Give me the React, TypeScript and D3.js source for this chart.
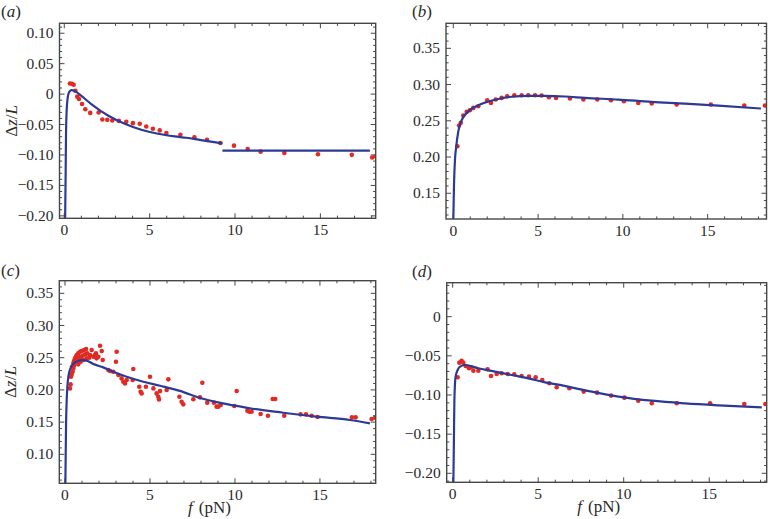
import React from 'react';
import * as d3 from 'd3';

type Pt = [number, number];

// ---------- data ----------
const xTickValues = [0, 5, 10, 15];
const xTickLabels = ['0', '5', '10', '15'];

const yTicksA = [0.1, 0.05, 0, -0.05, -0.1, -0.15, -0.2];
const yLabelsA = ['0.10', '0.05', '0', '\u22120.05', '\u22120.10', '\u22120.15', '\u22120.20'];
const yTicksB = [0.35, 0.3, 0.25, 0.2, 0.15];
const yLabelsB = ['0.35', '0.30', '0.25', '0.20', '0.15'];
const yTicksC = [0.35, 0.3, 0.25, 0.2, 0.15, 0.1];
const yLabelsC = ['0.35', '0.30', '0.25', '0.20', '0.15', '0.10'];
const yTicksD = [0, -0.05, -0.1, -0.15, -0.2];
const yLabelsD = ['0', '\u22120.05', '\u22120.10', '\u22120.15', '\u22120.20'];

const curveA: Pt[] = [
  [0.05, -0.205], [0.08, -0.13], [0.1, -0.07], [0.14, -0.027], [0.2, -0.006], [0.28, 0.003],
  [0.41, 0.0066], [0.65, 0.0045], [1.0, -0.003], [1.58, -0.0163], [2.56, -0.0352], [3.54, -0.0488],
  [4.51, -0.0586], [5.49, -0.0651], [6.47, -0.0694], [7.15, -0.0717], [8.0, -0.0755], [9.26, -0.0808],
];
const curveA2: Pt[] = [[9.26, -0.0928], [17.9, -0.0928]];
const dotsA: Pt[] = [
  [0.33, 0.0174], [0.45, 0.017], [0.55, 0.0153], [0.65, 0.0055], [0.76, -0.0042], [0.86, -0.0081],
  [1.04, -0.0163], [1.23, -0.0249], [1.52, -0.0309], [2.01, -0.0303], [2.23, -0.0417], [2.52, -0.0423],
  [2.81, -0.0434], [3.2, -0.044], [3.63, -0.0456], [4.02, -0.0477], [4.42, -0.0488], [4.8, -0.0531],
  [5.19, -0.057], [5.59, -0.0596], [5.98, -0.064], [6.8, -0.0668], [7.62, -0.071], [8.36, -0.0752],
  [9.14, -0.0803], [9.94, -0.0847], [10.74, -0.0901], [11.5, -0.0945], [12.89, -0.0966],
  [14.86, -0.0987], [16.84, -0.0998], [18.03, -0.1042], [18.22, -0.102],
];

const curveB: Pt[] = [
  [0.0, 0.112], [0.04, 0.16], [0.1, 0.1966], [0.16, 0.212], [0.3, 0.236], [0.49, 0.2505],
  [0.89, 0.263], [1.48, 0.2715], [2.46, 0.279], [3.44, 0.2832], [4.42, 0.2843], [5.4, 0.2843],
  [6.58, 0.2835], [7.77, 0.2816], [9.73, 0.2793], [11.7, 0.2761], [13.66, 0.2738], [15.63, 0.271],
  [18.14, 0.2669],
];
const dotsB: Pt[] = [
  [0.24, 0.2149], [0.34, 0.2434], [0.44, 0.2472], [0.59, 0.2572], [0.79, 0.2623], [0.98, 0.2646],
  [1.18, 0.2678], [1.47, 0.2701], [2.0, 0.2784], [2.22, 0.2747], [2.5, 0.2793], [2.85, 0.2816],
  [3.18, 0.2839], [3.6, 0.2853], [4.03, 0.2853], [4.42, 0.2853], [4.82, 0.2853], [5.21, 0.2848],
  [5.64, 0.2825], [6.06, 0.2816], [6.88, 0.2807], [7.67, 0.2793], [8.49, 0.2793], [9.3, 0.2784],
  [10.06, 0.277], [10.91, 0.2747], [11.7, 0.2738], [13.17, 0.2724], [15.19, 0.2724],
  [17.16, 0.271], [18.38, 0.271],
];

const curveC: Pt[] = [
  [0.02, 0.05], [0.06, 0.143], [0.1, 0.184], [0.2, 0.221], [0.33, 0.234], [0.59, 0.2428],
  [0.98, 0.2464], [1.27, 0.2455], [1.67, 0.2402], [2.25, 0.235], [2.84, 0.2283], [3.63, 0.2205],
  [4.61, 0.2127], [5.59, 0.2065], [6.76, 0.1985], [8.0, 0.187], [8.92, 0.181], [10.0, 0.1755],
  [10.88, 0.1714], [12.84, 0.1646], [14.8, 0.1584], [16.76, 0.1533], [17.94, 0.148],
];
const dotsC: Pt[] = [
  [0.29, 0.2024], [0.33, 0.2086], [0.35, 0.2205], [0.39, 0.2241], [0.45, 0.2283], [0.49, 0.2334],
  [0.41, 0.236], [0.49, 0.2412], [0.53, 0.2448], [0.59, 0.249], [0.65, 0.2516], [0.69, 0.2541],
  [0.78, 0.2567], [0.88, 0.2593], [0.98, 0.2604], [1.12, 0.2619], [1.24, 0.2635], [0.73, 0.2464],
  [0.84, 0.249], [0.92, 0.2516], [1.04, 0.2531], [1.18, 0.2552], [1.31, 0.2567], [1.47, 0.2541],
  [1.57, 0.2619], [1.67, 0.2516], [1.76, 0.2541], [1.86, 0.249], [1.96, 0.2516], [2.06, 0.2686],
  [2.16, 0.2604], [2.22, 0.2464], [1.82, 0.2567], [0.53, 0.2376], [0.65, 0.2438], [0.78, 0.2397],
  [0.92, 0.2438], [1.08, 0.2464], [1.27, 0.249], [1.43, 0.25],
  [3.04, 0.2593], [3.0, 0.2438], [2.55, 0.2309], [2.65, 0.2293], [2.84, 0.2283], [3.14, 0.2231],
  [3.33, 0.2179], [3.43, 0.2127], [3.53, 0.2101], [3.63, 0.2153], [4.02, 0.2324], [3.98, 0.2153],
  [4.37, 0.205], [4.45, 0.1972], [4.51, 0.1946], [4.76, 0.205], [5.0, 0.2205], [5.2, 0.2024],
  [5.39, 0.1946], [5.49, 0.1894], [5.53, 0.1853], [5.59, 0.1982], [6.08, 0.2164], [5.98, 0.1998],
  [6.73, 0.1894], [6.86, 0.1817], [6.96, 0.1776], [7.55, 0.1854], [7.94, 0.1885], [8.08, 0.2112],
  [8.37, 0.1802], [8.76, 0.1802], [8.92, 0.174], [9.02, 0.174], [9.16, 0.1766], [9.96, 0.175],
  [10.1, 0.1983], [10.73, 0.1678], [10.84, 0.1662], [10.98, 0.1662], [11.51, 0.1626],
  [11.94, 0.16], [12.22, 0.1859], [12.37, 0.1859], [12.9, 0.16], [13.86, 0.1621], [14.18, 0.1621],
  [14.51, 0.16], [14.86, 0.1579], [16.88, 0.1574], [17.1, 0.1574], [18.04, 0.1548], [18.24, 0.1569],
];

const curveD: Pt[] = [
  [0.04, -0.2115], [0.07, -0.16], [0.1, -0.106], [0.17, -0.0766], [0.29, -0.0681], [0.43, -0.0638],
  [0.72, -0.0617], [1.5, -0.0659], [2.47, -0.0702], [3.45, -0.0745], [4.42, -0.0787], [5.4, -0.0838],
  [6.47, -0.0881], [7.74, -0.0942], [9.69, -0.102], [11.64, -0.1073], [13.59, -0.1107],
  [15.54, -0.1132], [18.07, -0.1158],
];
const dotsD: Pt[] = [
  [0.29, -0.0774], [0.39, -0.0587], [0.52, -0.0562], [0.62, -0.0587], [0.76, -0.063], [0.95, -0.0659],
  [1.07, -0.0647], [1.21, -0.0689], [1.5, -0.0689], [2.04, -0.0672], [2.24, -0.0758], [2.57, -0.0732],
  [2.86, -0.0723], [3.22, -0.0732], [3.6, -0.0736], [4.03, -0.0758], [4.46, -0.0766], [4.85, -0.0774],
  [5.24, -0.0808], [5.65, -0.0851], [6.08, -0.0902], [6.82, -0.0914], [7.66, -0.0957], [8.44, -0.097],
  [9.26, -0.1008], [10.04, -0.1034], [10.85, -0.1072], [11.64, -0.1106], [13.1, -0.1106],
  [15.05, -0.1106], [17.05, -0.1115], [18.28, -0.1115],
];

// ---------- layout / style ----------
const W = 770;
const H = 519;
const SERIF = "'Liberation Serif', Tinos, 'Times New Roman', Times, serif";
const LINE_COLOR = '#2c3a96';
const DOT_COLOR = '#e12a22';
const FRAME_COLOR = '#454945';
const TEXT_COLOR = '#2a2a2a';

interface PanelSpec {
  id: string;
  frame: { l: number; r: number; t: number; b: number };
  xDomain: [number, number];
  yDomain: [number, number];
  yTicks: number[];
  yLabels: string[];
  curves: Pt[][];
  dots: Pt[];
  showYLabel: boolean;
  showXLabel: boolean;
  tag: { x: number; y: number };
}

const panels: PanelSpec[] = [
  {
    id: 'a', frame: { l: 59.5, r: 375.7, t: 23.3, b: 218.3 },
    xDomain: [-0.28, 18.24], yDomain: [-0.204, 0.1163],
    yTicks: yTicksA, yLabels: yLabelsA, curves: [curveA, curveA2], dots: dotsA,
    showYLabel: true, showXLabel: false, tag: { x: 1, y: 17 },
  },
  {
    id: 'b', frame: { l: 446, r: 766.5, t: 23.3, b: 219 },
    xDomain: [-0.43, 18.47], yDomain: [0.1145, 0.3845],
    yTicks: yTicksB, yLabels: yLabelsB, curves: [curveB], dots: dotsB,
    showYLabel: false, showXLabel: false, tag: { x: 412, y: 17 },
  },
  {
    id: 'c', frame: { l: 59.3, r: 375.7, t: 280.7, b: 483.3 },
    xDomain: [-0.335, 18.28], yDomain: [0.055, 0.3696],
    yTicks: yTicksC, yLabels: yLabelsC, curves: [curveC], dots: dotsC,
    showYLabel: true, showXLabel: true, tag: { x: 1, y: 276 },
  },
  {
    id: 'd', frame: { l: 446.7, r: 766.7, t: 282.7, b: 482.3 },
    xDomain: [-0.35, 18.36], yDomain: [-0.2115, 0.0434],
    yTicks: yTicksD, yLabels: yLabelsD, curves: [curveD], dots: dotsD,
    showYLabel: false, showXLabel: true, tag: { x: 412, y: 277 },
  },
];

function Panel({ p }: { p: PanelSpec }) {
  const { l, r, t, b } = p.frame;
  const x = d3.scaleLinear().domain(p.xDomain).range([l, r]);
  const y = d3.scaleLinear().domain(p.yDomain).range([b, t]);
  const line = d3.line<Pt>().x((d) => x(d[0])).y((d) => y(d[1])).curve(d3.curveMonotoneX);

  const xMinor = d3.range(Math.ceil(p.xDomain[0]), Math.floor(p.xDomain[1]) + 1).filter((k) => k % 5 !== 0);
  const yMinor = d3
    .range(Math.ceil(p.yDomain[0] * 100 - 1e-9), Math.floor(p.yDomain[1] * 100 + 1e-9) + 1)
    .filter((k) => k % 5 !== 0)
    .map((k) => k / 100);

  const MAJ = 5;
  const MIN = 2.6;
  const clipId = `clip-${p.id}`;
  const tickProps = { stroke: FRAME_COLOR, strokeWidth: 1 };
  const txt = { fontFamily: SERIF };

  return (
    <g>
      <defs>
        <clipPath id={clipId}>
          <rect x={l} y={t} width={r - l} height={b - t} />
        </clipPath>
      </defs>
      {xTickValues.map((v) => (
        <g key={`xM${v}`}>
          <line x1={x(v)} x2={x(v)} y1={b} y2={b - MAJ} {...tickProps} />
          <line x1={x(v)} x2={x(v)} y1={t} y2={t + MAJ} {...tickProps} />
        </g>
      ))}
      {xMinor.map((v) => (
        <g key={`xm${v}`}>
          <line x1={x(v)} x2={x(v)} y1={b} y2={b - MIN} {...tickProps} />
          <line x1={x(v)} x2={x(v)} y1={t} y2={t + MIN} {...tickProps} />
        </g>
      ))}
      {p.yTicks.map((v) => (
        <g key={`yM${v}`}>
          <line x1={l} x2={l + MAJ} y1={y(v)} y2={y(v)} {...tickProps} />
          <line x1={r} x2={r - MAJ} y1={y(v)} y2={y(v)} {...tickProps} />
        </g>
      ))}
      {yMinor.map((v) => (
        <g key={`ym${v}`}>
          <line x1={l} x2={l + MIN} y1={y(v)} y2={y(v)} {...tickProps} />
          <line x1={r} x2={r - MIN} y1={y(v)} y2={y(v)} {...tickProps} />
        </g>
      ))}
      <g clipPath={`url(#${clipId})`}>
        {p.dots.map((d, i) => (
          <circle key={i} cx={x(d[0])} cy={y(d[1])} r={2.3} fill={DOT_COLOR} />
        ))}
        {p.curves.map((c, i) => (
          <path key={i} d={line(c) || ''} fill="none" stroke={LINE_COLOR} strokeWidth={2.2} strokeLinejoin="round" />
        ))}
      </g>
      <rect x={l} y={t} width={r - l} height={b - t} fill="none" stroke={FRAME_COLOR} strokeWidth={1.4} />
      {xTickValues.map((v, i) => (
        <text key={`xl${v}`} x={x(v)} y={b + 16.5} textAnchor="middle" fontSize={15.5} fill={TEXT_COLOR} style={txt}>
          {xTickLabels[i]}
        </text>
      ))}
      {p.yTicks.map((v, i) => (
        <text key={`yl${v}`} x={l - 6} y={y(v) + 5} textAnchor="end" fontSize={15.5} fill={TEXT_COLOR} style={txt}>
          {p.yLabels[i]}
        </text>
      ))}
      {p.showYLabel && (
        <text
          transform={`translate(${l - 43},${(t + b) / 2}) rotate(-90)`}
          textAnchor="middle"
          fontSize={17}
          fill={TEXT_COLOR}
          style={txt}
        >
          Δ<tspan fontStyle="italic">z</tspan>/<tspan fontStyle="italic">L</tspan>
        </text>
      )}
      {p.showXLabel && (
        <text x={(l + r) / 2 - 8} y={b + 30} textAnchor="middle" fontSize={17} fill={TEXT_COLOR} style={txt}>
          <tspan fontStyle="italic">f</tspan>
          <tspan dx={6}>(pN)</tspan>
        </text>
      )}
      <text x={p.tag.x} y={p.tag.y} fontSize={17} fill={TEXT_COLOR} style={txt}>
        (<tspan fontStyle="italic">{p.id}</tspan>)
      </text>
    </g>
  );
}

export default function App() {
  return (
    <svg
      width={W}
      height={H}
      viewBox={`0 0 ${W} ${H}`}
      style={{ position: 'absolute', left: 0, top: 0, display: 'block', background: '#fff', fontFamily: SERIF }}
    >
      <rect x={0} y={0} width={W} height={H} fill="#fff" />
      {panels.map((p) => (
        <Panel key={p.id} p={p} />
      ))}
    </svg>
  );
}
